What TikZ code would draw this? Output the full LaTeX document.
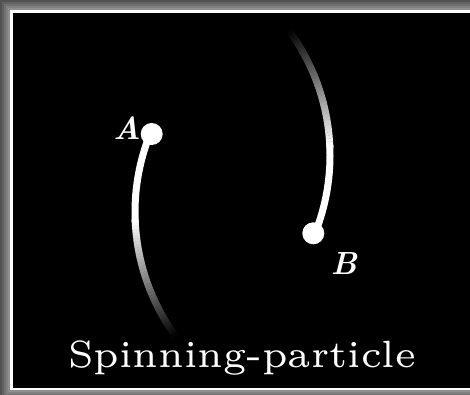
\documentclass[tikz,border=0pt]{standalone}
\usetikzlibrary{positioning}

\tikzset{
  trail/.style={line width=7pt},
  particle/.style={circle, fill=white, inner sep=0pt, minimum size=22pt},
  plabel/.style={text=white, inner sep=0pt, font=\fontsize{32}{32}\selectfont\bfseries\itshape},
  caption/.style={text=white, inner sep=0pt, anchor=base, scale=6.33, transform shape, font=\fontsize{6}{7}\selectfont}
}

\begin{document}
\begin{tikzpicture}[x=1pt, y=-1pt]
\useasboundingbox (0,0) rectangle (470,394);
\clip (0,0) rectangle (470,394);

% frame
\foreach \i/\c in {0/68,2/62,4/56,6/50,8/44}
  \fill[black!\c] (\i,\i) rectangle (480,400-\i);
\fill[white] (10,10) rectangle (480,390);
\fill[black] (13,13) rectangle (480,388);

% centres of the two trails
\coordinate (ca) at (345,212);
\coordinate (cb) at (120,155.4);

% trail of A
\draw[trail, white] (ca) ++(202:210) arc[start angle=202, end angle=177, radius=210];
\foreach \k in {0,...,39} {
  \pgfmathsetmacro\a{178-\k*0.85}
  \pgfmathtruncatemacro\p{100-\k*2.5}
  \draw[trail, white!\p!black] (ca) ++(\a:210) arc[start angle=\a, end angle=\a-0.95, radius=210];
}

% trail of B
\draw[trail, white] (cb) ++(22:210) arc[start angle=22, end angle=-3, radius=210];
\foreach \k in {0,...,39} {
  \pgfmathsetmacro\a{-2-\k*0.85}
  \pgfmathtruncatemacro\p{100-\k*2.5}
  \draw[trail, white!\p!black] (cb) ++(\a:210) arc[start angle=\a, end angle=\a-0.95, radius=210];
}

% particles
\node[particle] (ptA) at (151.7,134) {};
\node[particle] (ptB) at (313.3,233.3) {};
\node[plabel] (labA) at (127,128) {A};
\node[plabel] (labB) at (344,264) {B};

\node[caption] (title) at (242,367) {Spinning-particle};
\end{tikzpicture}
\end{document}
